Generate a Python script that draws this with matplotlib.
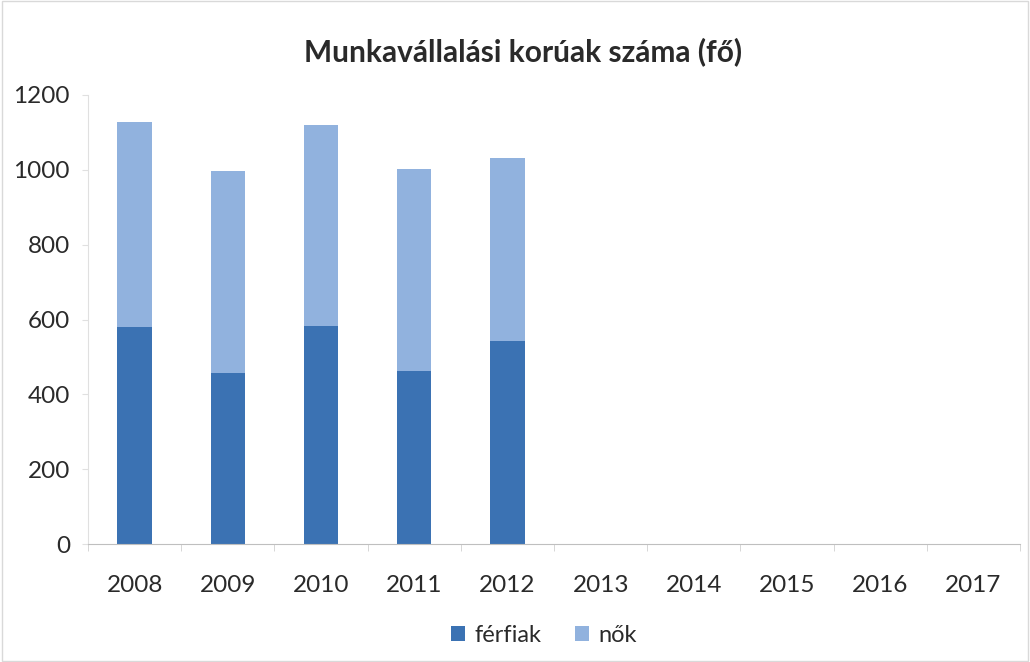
import matplotlib.pyplot as plt
import numpy as np
from matplotlib.patches import Rectangle

plt.rcParams['font.family'] = ['Lato', 'DejaVu Sans']

years = ['2008', '2009', '2010', '2011', '2012', '2013', '2014', '2015', '2016', '2017']
ferfiak = [580, 456, 584, 462, 542]   # alsó rész
nok = [549, 540, 535, 539, 491]       # felső rész

c_dark = '#3b72b3'
c_light = '#91b2de'
c_text = '#2a2a2a'

fig = plt.figure(figsize=(10.3, 6.62), dpi=100)
ax = fig.add_axes([0.0854, 0.178, 0.905, 0.6785])

x = np.arange(len(years))
n = len(ferfiak)
ax.bar(x[:n], ferfiak, width=0.37, color=c_dark, label='férfiak')
ax.bar(x[:n], nok, width=0.37, bottom=ferfiak, color=c_light, label='nők')

ax.set_xlim(-0.5, len(years) - 0.5)
ax.set_ylim(0, 1200)
ax.set_yticks(range(0, 1201, 200))
ax.set_xticks(x)
ax.set_xticklabels(years)
ax.set_xticks(np.arange(-0.5, len(years), 1), minor=True)

for s in ['top', 'right']:
    ax.spines[s].set_visible(False)
ax.spines['left'].set_color('#e0e0e0')
ax.spines['bottom'].set_color('#bfbfbf')
ax.tick_params(axis='x', which='major', length=0, pad=22, labelsize=17.5, colors=c_text)
ax.tick_params(axis='x', which='minor', length=5, color='#d0d0d0')
ax.tick_params(axis='y', length=4, color='#e0e0e0', pad=9, labelsize=17.5, colors=c_text)

fig.text(0.508, 0.922, 'Munkavállalási korúak száma (fő)', ha='center', va='center',
         fontsize=21.5, fontweight='bold', color=c_text)

fig.legend(loc='center', bbox_to_anchor=(0.528, 0.04), ncol=2, frameon=False,
           fontsize=17, handlelength=0.6, handleheight=0.6, handletextpad=0.4,
           columnspacing=1.4, labelcolor=c_text)

# keret a kép körül
fig.add_artist(Rectangle((0.002, 0.002), 0.996, 0.996, transform=fig.transFigure,
                         fill=False, edgecolor='#d9d9d9', linewidth=1))

plt.savefig('out.png', dpi=100)
